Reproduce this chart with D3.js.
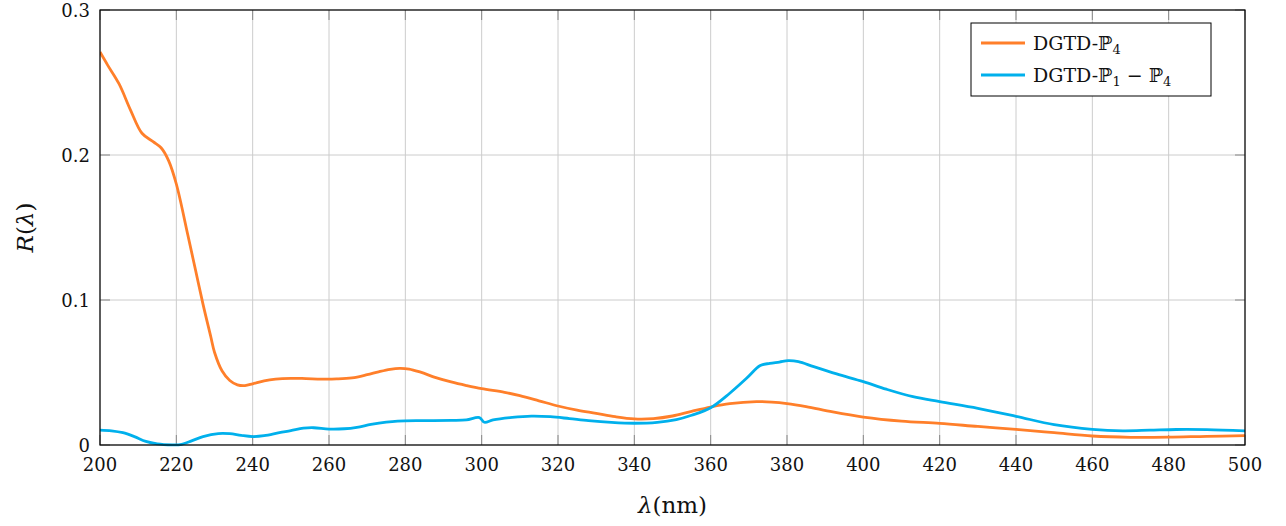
<!DOCTYPE html>
<html><head><meta charset="utf-8">
<script src="https://cdn.jsdelivr.net/npm/d3@7"></script>
<style>
body{margin:0;background:#fff;}
svg{display:block;}
</style></head>
<body><svg id="c" width="1286" height="526"></svg>
<script>
const xTicks=[200,220,240,260,280,300,320,340,360,380,400,420,440,460,480,500];
const yTicks=[0,0.1,0.2,0.3];
const yTickLabels=["0","0.1","0.2","0.3"];
const seriesNames=["DGTD-ℙ4","DGTD-ℙ1 – ℙ4"];
const orangeX=[200,202,205,208,211,214,216,218,220,223,225,227,229,230,232,234,236,238,240,243,246,250,254,258,262,266,270,273,276,278.5,281,284,288,292,296,300,306,310,315,320,325,330,335,340,345,350,355,360,365,372,376,380,385,392,400,410,420,430,440,450,460,470,480,490,500];
const orangeY=[0.271,0.262,0.249,0.231,0.215,0.209,0.205,0.196,0.180,0.145,0.121,0.097,0.075,0.064,0.051,0.0445,0.0415,0.0410,0.0422,0.0443,0.0455,0.046,0.0458,0.0455,0.0456,0.0463,0.0485,0.0505,0.0522,0.0529,0.0524,0.0502,0.0465,0.0435,0.041,0.0388,0.0363,0.034,0.0305,0.0269,0.024,0.0218,0.0195,0.0180,0.0182,0.020,0.0232,0.0262,0.0285,0.0299,0.0296,0.0286,0.0265,0.0228,0.0193,0.0165,0.0149,0.0128,0.0108,0.0085,0.0062,0.0053,0.0054,0.006,0.0064];
const blueX=[200,203,206,209,212,215,219,221,224,227,231,234,237,240,243,247,250,253.3,256,260,264,267.3,271,275,278,285,292,296,299.4,300.7,303,308,313,318,323,328,334,340,346,351,355,360,365,369.4,373,375.5,378,380.3,383,387,393,400,406,413,420,430,440,450,460,468,475,482,490,500];
const blueY=[0.0103,0.0098,0.0085,0.0058,0.0025,0.0008,0.0001,0.0002,0.0028,0.0058,0.0079,0.0078,0.0066,0.0058,0.0064,0.0085,0.0099,0.0116,0.0119,0.0110,0.0112,0.0122,0.0142,0.0158,0.0165,0.0168,0.0170,0.0173,0.0189,0.0157,0.0173,0.0190,0.0199,0.0195,0.0182,0.0168,0.0156,0.0150,0.0156,0.0175,0.0205,0.0257,0.0357,0.046,0.0548,0.0563,0.0572,0.0582,0.0575,0.054,0.049,0.0437,0.0385,0.0333,0.0299,0.0253,0.0198,0.014,0.0108,0.0098,0.0102,0.0107,0.0106,0.0097];
const colors=["#ff7f2a","#00b0ec"];
const FONT="'DejaVu Serif', serif";

const svg=d3.select("#c").attr("font-family",FONT);
const L=100,R=1245,T=10,B=445;
const x=d3.scaleLinear().domain([200,500]).range([L,R]);
const y=d3.scaleLinear().domain([0,0.3]).range([B,T]);

const g=svg.append("g");
g.selectAll(".vg").data(xTicks).enter().append("line")
 .attr("x1",d=>x(d)).attr("x2",d=>x(d)).attr("y1",T).attr("y2",B)
 .attr("stroke","#cccccc").attr("stroke-width",1);
g.selectAll(".hg").data(yTicks).enter().append("line")
 .attr("x1",L).attr("x2",R).attr("y1",d=>y(d)).attr("y2",d=>y(d))
 .attr("stroke","#cccccc").attr("stroke-width",1);
g.selectAll(".xt").data(xTicks).enter().append("line")
 .attr("x1",d=>x(d)).attr("x2",d=>x(d)).attr("y1",B).attr("y2",B-10)
 .attr("stroke","#888").attr("stroke-width",1);
g.selectAll(".xt2").data(xTicks).enter().append("line")
 .attr("x1",d=>x(d)).attr("x2",d=>x(d)).attr("y1",T).attr("y2",T+10)
 .attr("stroke","#888").attr("stroke-width",1);
g.selectAll(".yt").data(yTicks).enter().append("line")
 .attr("x1",L).attr("x2",L+10).attr("y1",d=>y(d)).attr("y2",d=>y(d))
 .attr("stroke","#888").attr("stroke-width",1);
g.selectAll(".yt2").data(yTicks).enter().append("line")
 .attr("x1",R).attr("x2",R-10).attr("y1",d=>y(d)).attr("y2",d=>y(d))
 .attr("stroke","#888").attr("stroke-width",1);

const line=d3.line().x(d=>x(d[0])).y(d=>y(d[1])).curve(d3.curveCatmullRom.alpha(0.5));
const series=[d3.zip(orangeX,orangeY),d3.zip(blueX,blueY)];
svg.append("clipPath").attr("id","cp").append("rect").attr("x",L).attr("y",T-2).attr("width",R-L).attr("height",B-T+4);
svg.append("g").attr("clip-path","url(#cp)").selectAll("path").data(series).enter().append("path")
 .attr("d",line).attr("fill","none").attr("stroke",(d,i)=>colors[i]).attr("stroke-width",2.8)
 .attr("stroke-linejoin","round");

svg.append("rect").attr("x",L).attr("y",T).attr("width",R-L).attr("height",B-T)
 .attr("fill","none").attr("stroke","#000").attr("stroke-width",1.2);

svg.selectAll(".xl").data(xTicks).enter().append("text")
 .attr("x",d=>x(d)).attr("y",B+26).attr("text-anchor","middle").attr("font-size",18).attr("fill","#111").text(d=>d);
svg.selectAll(".yl").data(yTicks).enter().append("text")
 .attr("x",L-10).attr("y",d=>y(d)+7).attr("text-anchor","end").attr("font-size",18).attr("fill","#111").text((d,i)=>yTickLabels[i]);

const xl=svg.append("text").attr("x",(L+R)/2).attr("y",513).attr("text-anchor","middle").attr("font-size",23).attr("fill","#111");
xl.append("tspan").attr("font-style","italic").text("λ");
xl.append("tspan").text("(nm)");
const yl=svg.append("text").attr("transform","translate(33,"+((T+B)/2)+") rotate(-90)").attr("text-anchor","middle").attr("font-size",23).attr("fill","#111");
yl.append("tspan").attr("font-style","italic").text("R");
yl.append("tspan").text("(");
yl.append("tspan").attr("font-style","italic").text("λ");
yl.append("tspan").text(")");

const lg=svg.append("g");
lg.append("rect").attr("x",971).attr("y",23).attr("width",240).attr("height",73)
 .attr("fill","#fff").attr("stroke","#000").attr("stroke-width",1);
const ly=[43,75];
seriesNames.forEach((n,i)=>{
  lg.append("line").attr("x1",981).attr("x2",1025).attr("y1",ly[i]).attr("y2",ly[i])
   .attr("stroke",colors[i]).attr("stroke-width",2.8);
  const t=lg.append("text").attr("x",1033).attr("y",ly[i]+7).attr("font-size",19).attr("fill","#111");
  if(i===0){
    t.append("tspan").text("DGTD-ℙ");
    t.append("tspan").attr("font-size",13).attr("dy",4).text("4");
  } else {
    t.append("tspan").text("DGTD-ℙ");
    t.append("tspan").attr("font-size",13).attr("dy",4).text("1");
    t.append("tspan").attr("dy",-4).text(" − ℙ");
    t.append("tspan").attr("font-size",13).attr("dy",4).text("4");
  }
});
</script></body></html>
